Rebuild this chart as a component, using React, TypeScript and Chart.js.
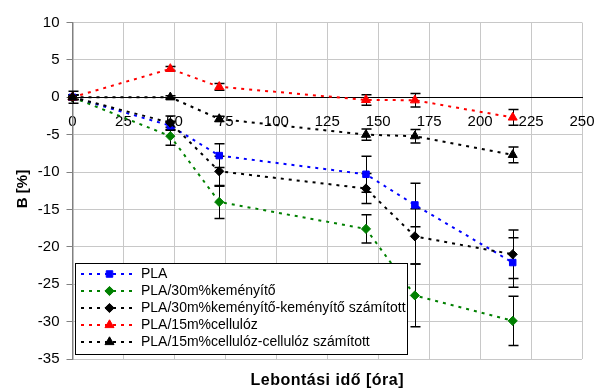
import React, { useEffect, useRef } from "react";
import { Chart, registerables } from "chart.js";

Chart.register(...registerables);

// ---- data ----
const times = [0, 48, 72, 144, 168, 216];
const seriesNames = [
  "PLA",
  "PLA/30m%keményítő",
  "PLA/30m%keményítő-keményítő számított",
  "PLA/15m%cellulóz",
  "PLA/15m%cellulóz-cellulóz számított",
];
const plaValues = [0, -3.8, -7.8, -10.3, -14.4, -22.1];
const plaErrors = [0.8, 0.6, 1.6, 2.4, 2.9, 3.3];
const starchValues = [0, -5.2, -14.0, -17.6, -26.5, -29.9];
const starchErrors = [0.3, 1.2, 2.2, 1.9, 4.2, 3.3];
const starchCalcValues = [0, -3.4, -9.9, -12.2, -18.6, -21.0];
const starchCalcErrors = [0.3, 0.9, 2.0, 2.0, 3.7, 3.25];
const celluloseValues = [0, 3.8, 1.4, -0.35, -0.4, -2.7];
const celluloseErrors = [0.3, 0.3, 0.45, 0.7, 0.9, 1.05];
const celluloseCalcValues = [0, 0, -2.9, -5.0, -5.2, -7.7];
const celluloseCalcErrors = [0.3, 0.2, 0.35, 0.75, 0.9, 1.05];

const xMin = 0;
const xMax = 250;
const xStep = 25;
const yMin = -35;
const yMax = 10;
const yStep = 5;
const xTitle = "Lebontási idő [óra]";
const yTitle = "B [%]";

// ---- styles ----
const FONT = "'Liberation Sans', Arial, sans-serif";
const colors = ["#0000ff", "#008000", "#000000", "#ff0000", "#000000"];
const pointStyles = ["rect", "rectRot", "rectRot", "triangle", "triangle"];
const pointRadii = [4.6, 4.6, 4.6, 5.2, 5.2];
const DASH = [3, 5];

const valueSets = [plaValues, starchValues, starchCalcValues, celluloseValues, celluloseCalcValues];
const errorSets = [plaErrors, starchErrors, starchCalcErrors, celluloseErrors, celluloseCalcErrors];

function drawMarker(ctx: CanvasRenderingContext2D, style: string, x: number, y: number, r: number, color: string) {
  ctx.save();
  ctx.fillStyle = color;
  ctx.strokeStyle = color;
  ctx.lineWidth = 1;
  ctx.setLineDash([]);
  ctx.beginPath();
  if (style === "rect") {
    const s = Math.SQRT1_2 * r;
    ctx.rect(x - s, y - s, 2 * s, 2 * s);
  } else if (style === "rectRot") {
    ctx.moveTo(x - r, y);
    ctx.lineTo(x, y - r);
    ctx.lineTo(x + r, y);
    ctx.lineTo(x, y + r);
    ctx.closePath();
  } else {
    let rad = 0;
    ctx.moveTo(x + Math.sin(rad) * r, y - Math.cos(rad) * r);
    rad += (2 * Math.PI) / 3;
    ctx.lineTo(x + Math.sin(rad) * r, y - Math.cos(rad) * r);
    rad += (2 * Math.PI) / 3;
    ctx.lineTo(x + Math.sin(rad) * r, y - Math.cos(rad) * r);
    ctx.closePath();
  }
  ctx.fill();
  ctx.stroke();
  ctx.restore();
}

const errorBarPlugin = {
  id: "errorBars",
  beforeDatasetsDraw(chart: any) {
    const { ctx } = chart;
    const xs = chart.scales.x;
    const ys = chart.scales.y;
    ctx.save();
    ctx.strokeStyle = "#000";
    ctx.setLineDash([]);
    valueSets.forEach((vals, si) => {
      const errs = errorSets[si];
      vals.forEach((v, i) => {
        const px = Math.round(xs.getPixelForValue(times[i])) + 0.5;
        const yTop = ys.getPixelForValue(v + errs[i]);
        const yBot = ys.getPixelForValue(v - errs[i]);
        ctx.lineWidth = 1;
        ctx.beginPath();
        ctx.moveTo(px, yTop);
        ctx.lineTo(px, yBot);
        ctx.stroke();
        ctx.lineWidth = 1.5;
        ctx.beginPath();
        ctx.moveTo(px - 5, yTop);
        ctx.lineTo(px + 5, yTop);
        ctx.moveTo(px - 5, yBot);
        ctx.lineTo(px + 5, yBot);
        ctx.stroke();
      });
    });
    ctx.restore();
  },
};

const decorPlugin = {
  id: "decor",
  afterDraw(chart: any) {
    const { ctx, chartArea } = chart;
    ctx.save();
    // axis titles
    ctx.fillStyle = "#000";
    ctx.textAlign = "center";
    ctx.textBaseline = "middle";
    ctx.font = `bold 15px ${FONT}`;
    ctx.save();
    ctx.translate(22.5, 189);
    ctx.rotate(-Math.PI / 2);
    ctx.fillText(yTitle, 0, 0);
    ctx.restore();
    ctx.font = `bold 16px ${FONT}`;
    try { (ctx as any).letterSpacing = "0.5px"; } catch (e) {}
    ctx.fillText(xTitle, (chartArea.left + chartArea.right) / 2, 381);
    try { (ctx as any).letterSpacing = "0px"; } catch (e) {}

    // legend
    const lx = 75.5, ly = 263.5, lw = 332, lh = 91;
    ctx.fillStyle = "#fff";
    ctx.fillRect(lx, ly, lw, lh);
    ctx.strokeStyle = "#000";
    ctx.lineWidth = 1;
    ctx.strokeRect(lx, ly, lw, lh);
    seriesNames.forEach((name, i) => {
      const ry = 274 + i * 17;
      ctx.save();
      ctx.strokeStyle = colors[i];
      ctx.lineWidth = 2;
      ctx.setLineDash(DASH);
      ctx.beginPath();
      ctx.moveTo(81, ry);
      ctx.lineTo(134, ry);
      ctx.stroke();
      ctx.restore();
      drawMarker(ctx, pointStyles[i], 109.5, ry, pointRadii[i], colors[i]);
      ctx.fillStyle = "#000";
      ctx.textAlign = "left";
      ctx.textBaseline = "middle";
      ctx.font = `14px ${FONT}`;
      ctx.fillText(name, 141, ry + 0.5);
    });
    ctx.restore();
  },
};

export default function App() {
  const canvasRef = useRef<HTMLCanvasElement | null>(null);

  useEffect(() => {
    const canvas = canvasRef.current;
    if (!canvas) return;
    const datasets = seriesNames.map((name, i) => ({
      label: name,
      data: times.map((t, k) => ({ x: t, y: valueSets[i][k] })),
      borderColor: colors[i],
      backgroundColor: colors[i],
      borderWidth: 2,
      borderDash: DASH,
      pointStyle: pointStyles[i],
      pointRadius: pointRadii[i],
      pointBorderWidth: 1,
      pointBackgroundColor: colors[i],
      pointBorderColor: colors[i],
      tension: 0,
      fill: false,
      clip: false,
      order: seriesNames.length - i,
    }));

    const chart = new Chart(canvas, {
      type: "line",
      data: { datasets } as any,
      options: {
        animation: false,
        responsive: false,
        devicePixelRatio: 1,
        layout: { padding: { left: 0, top: 22.5, right: 15, bottom: 31 } },
        plugins: { legend: { display: false }, tooltip: { enabled: false }, title: { display: false } },
        scales: {
          x: {
            type: "linear",
            min: xMin,
            max: xMax,
            position: { y: 0 } as any,
            afterFit: (s: any) => {
              s.paddingLeft = 0;
              s.paddingRight = 0;
            },
            ticks: {
              stepSize: xStep,
              color: "#000",
              font: { family: FONT, size: 15 },
              padding: 16,
              maxRotation: 0,
              autoSkip: false,
            },
            grid: { color: "#c8c8c8", lineWidth: 1, drawTicks: false },
            border: { color: "#000", width: 1 },
          },
          y: {
            type: "linear",
            min: yMin,
            max: yMax,
            position: "left",
            afterFit: (s: any) => {
              s.width = 72.5;
            },
            ticks: {
              stepSize: yStep,
              color: "#000",
              font: { family: FONT, size: 15 },
              padding: 7,
            },
            grid: { color: "#c8c8c8", lineWidth: 1, tickColor: "#808080", tickLength: 6 },
            border: { color: "#808080", width: 1.5 },
          },
        },
      } as any,
      plugins: [errorBarPlugin, decorPlugin],
    });
    return () => chart.destroy();
  }, []);

  return (
    <div style={{ position: "fixed", left: 0, top: 0, width: 597, height: 390, background: "#fff" }}>
      <canvas ref={canvasRef} width={597} height={390} style={{ display: "block" }} />
    </div>
  );
}
